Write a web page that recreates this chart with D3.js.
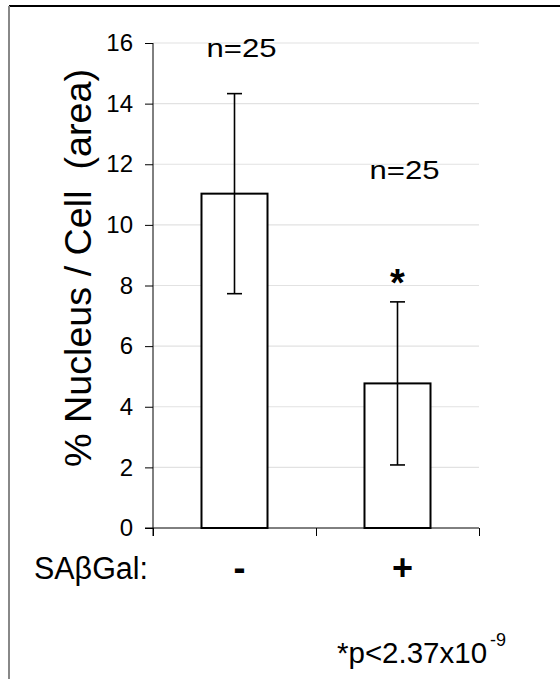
<!DOCTYPE html>
<html lang="en">
<head>
    <meta charset="UTF-8">
    <title>Nucleus / Cell area</title>
    <script src="https://d3js.org/d3.v7.min.js"></script>
    <style>
        body { margin: 0; background: #fff; }
        text { font-family: Arial, "Liberation Sans", sans-serif; fill: #000; }
        .grid line { stroke: #e2e2e2; stroke-width: 1.2px; }
        .axis path, .axis line { stroke: #000; stroke-width: 1px; }
        .axis text { font-size: 24px; }
    </style>
</head>
<body>
    <svg width="560" height="679"></svg>
    <script>
        // data
        const categories = ["-", "+"];
        const means = [11.03, 4.77];
        const errors = [3.3, 2.69];
        const sampleLabels = ["n=25", "n=25"];
        const significance = ["", "*"];
        const yTicks = [0, 2, 4, 6, 8, 10, 12, 14, 16];

        const width = 560, height = 679;
        const plot = {left: 153, right: 479, top: 43, bottom: 528};

        const svg = d3.select("svg");

        // outer frame (right and bottom edges run off the picture)
        svg.append("line")
            .attr("x1", 9).attr("x2", width).attr("y1", 6).attr("y2", 6)
            .attr("stroke", "#000").attr("stroke-width", 2);
        svg.append("line")
            .attr("x1", 9).attr("x2", 9).attr("y1", 6).attr("y2", height)
            .attr("stroke", "#888").attr("stroke-width", 2);

        const y = d3.scaleLinear()
            .domain([0, 16])
            .range([plot.bottom, plot.top]);

        const x = d3.scaleBand()
            .domain(categories)
            .range([plot.left, plot.right])
            .paddingInner(0.595)
            .paddingOuter(0.2975);

        // category boundaries for the x tick marks
        const xEdge = d3.scaleLinear()
            .domain([0, categories.length])
            .range([plot.left, plot.right]);

        // gridlines
        svg.append("g")
            .attr("class", "grid")
            .selectAll("line")
            .data(yTicks.filter(d => d > 0))
            .enter().append("line")
            .attr("x1", plot.left)
            .attr("x2", plot.right)
            .attr("y1", d => y(d))
            .attr("y2", d => y(d));

        // y axis
        svg.append("g")
            .attr("class", "axis")
            .attr("transform", `translate(${plot.left},0)`)
            .call(d3.axisLeft(y).tickValues(yTicks).tickSize(8).tickPadding(12).tickSizeOuter(0))
            .call(g => g.select(".domain").attr("d", `M0,${y(16)}V${plot.bottom + 8}`));

        // x axis: line plus ticks at category edges
        svg.append("g")
            .attr("class", "axis")
            .attr("transform", `translate(0,${plot.bottom})`)
            .call(d3.axisBottom(xEdge).tickValues(d3.range(categories.length + 1)).tickSize(8).tickFormat(""))
            .call(g => g.select(".domain").attr("d", `M${plot.left - 8},0H${plot.right}`));

        // bars
        svg.append("g")
            .selectAll("rect")
            .data(categories)
            .enter().append("rect")
            .attr("x", d => x(d))
            .attr("y", (d, i) => y(means[i]))
            .attr("width", x.bandwidth())
            .attr("height", (d, i) => y(0) - y(means[i]))
            .attr("fill", "#fff")
            .attr("stroke", "#000")
            .attr("stroke-width", 2);

        // error bars
        const eb = svg.append("g")
            .attr("stroke", "#000")
            .attr("stroke-width", 1.6);
        categories.forEach((c, i) => {
            const cx = x(c) + x.bandwidth() / 2;
            const hi = y(means[i] + errors[i]), lo = y(means[i] - errors[i]);
            eb.append("line").attr("x1", cx).attr("x2", cx).attr("y1", hi).attr("y2", lo);
            eb.append("line").attr("x1", cx - 7.5).attr("x2", cx + 7.5).attr("y1", hi).attr("y2", hi);
            eb.append("line").attr("x1", cx - 7.5).attr("x2", cx + 7.5).attr("y1", lo).attr("y2", lo);
        });

        // n labels
        const nLabelY = [15.55, 11.52];
        svg.append("g")
            .selectAll("text")
            .data(sampleLabels)
            .enter().append("text")
            .attr("x", (d, i) => x(categories[i]) + x.bandwidth() / 2 + 7)
            .attr("y", (d, i) => y(nLabelY[i]))
            .attr("text-anchor", "middle")
            .attr("font-size", 26)
            .attr("textLength", 70)
            .attr("lengthAdjust", "spacingAndGlyphs")
            .text(d => d);

        // significance star
        svg.append("g")
            .selectAll("text")
            .data(significance)
            .enter().append("text")
            .attr("x", (d, i) => x(categories[i]) + x.bandwidth() / 2)
            .attr("y", (d, i) => y(means[i] + errors[i]) - 6)
            .attr("text-anchor", "middle")
            .attr("font-size", 38)
            .attr("font-weight", "bold")
            .text(d => d);

        // category labels
        svg.append("text")
            .attr("x", 34)
            .attr("y", 579)
            .attr("font-size", 31)
            .attr("textLength", 114)
            .attr("lengthAdjust", "spacingAndGlyphs")
            .text("SAβGal:");

        svg.append("g")
            .selectAll("text")
            .data(categories)
            .enter().append("text")
            .attr("x", d => x(d) + x.bandwidth() / 2 + 5)
            .attr("y", 580)
            .attr("text-anchor", "middle")
            .attr("font-size", 36)
            .attr("font-weight", "bold")
            .text(d => d);

        // y axis title
        svg.append("text")
            .attr("transform", `translate(91,${(69 + 467) / 2}) rotate(-90)`)
            .attr("text-anchor", "middle")
            .attr("font-size", 37)
            .attr("textLength", 398)
            .attr("lengthAdjust", "spacingAndGlyphs")
            .attr("xml:space", "preserve")
            .text("% Nucleus / Cell  (area)");

        // p-value note
        svg.append("text")
            .attr("x", 337)
            .attr("y", 663)
            .attr("font-size", 29.5)
            .text("*p<2.37x10");
        svg.append("text")
            .attr("x", 490)
            .attr("y", 646)
            .attr("font-size", 18)
            .text("-9");
    </script>
</body>
</html>
